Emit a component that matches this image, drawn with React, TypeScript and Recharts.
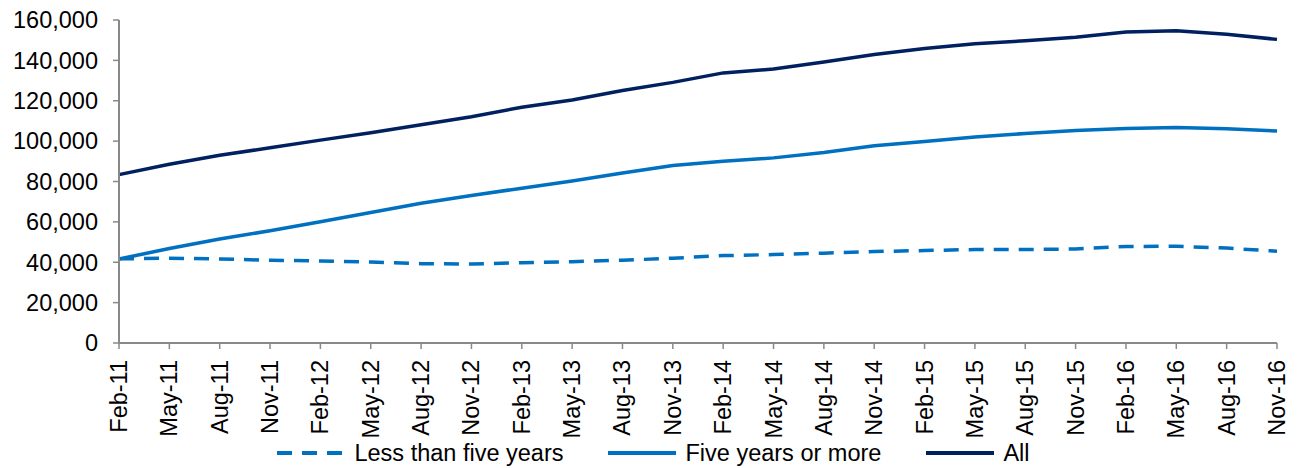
import { LineChart, Line, XAxis, YAxis, Legend } from 'recharts';

const months = [
  'Feb-11', 'May-11', 'Aug-11', 'Nov-11',
  'Feb-12', 'May-12', 'Aug-12', 'Nov-12',
  'Feb-13', 'May-13', 'Aug-13', 'Nov-13',
  'Feb-14', 'May-14', 'Aug-14', 'Nov-14',
  'Feb-15', 'May-15', 'Aug-15', 'Nov-15',
  'Feb-16', 'May-16', 'Aug-16', 'Nov-16',
];

const lessThanFive = [
  41700, 42000, 41600, 41000, 40600, 40100, 39300, 39100,
  39800, 40300, 41000, 42000, 43300, 43800, 44500, 45300,
  45800, 46300, 46300, 46600, 47800, 47900, 47000, 45500,
];

const fiveOrMore = [
  41600, 46800, 51500, 55600, 60100, 64600, 69200, 73100,
  76700, 80200, 84200, 87900, 90000, 91700, 94400, 97700,
  99800, 102000, 103800, 105300, 106300, 106800, 106100, 105000,
];

const all = [
  83400, 88500, 93000, 96700, 100500, 104100, 108100, 112100,
  116800, 120400, 125100, 129100, 133800, 135700, 139200, 142900,
  145900, 148200, 149700, 151500, 154000, 154700, 152900, 150400,
];

const yTicks = [0, 20000, 40000, 60000, 80000, 100000, 120000, 140000, 160000];

const data = months.map((m, i) => ({
  month: m,
  less: lessThanFive[i],
  more: fiveOrMore[i],
  all: all[i],
}));

const FONT = '"Liberation Sans", Arial, sans-serif';
const FS = 23.5;
const AXIS = '#898989';

const RotatedTick = (props: any) => {
  const { x, y, payload } = props;
  return (
    <text
      x={0}
      y={0}
      transform={`translate(${x},${y}) rotate(-90)`}
      textAnchor="end"
      dominantBaseline="central"
      fontSize={FS}
      fontFamily={FONT}
      fill="#000"
    >
      {payload.value}
    </text>
  );
};

const legendItems = [
  { label: 'Less than five years', color: '#0070C0', dash: '15 10' },
  { label: 'Five years or more', color: '#0070C0', dash: undefined },
  { label: 'All', color: '#002060', dash: undefined },
];

const CustomLegend = () => (
  <div style={{ display: 'flex', justifyContent: 'center', alignItems: 'center', fontFamily: FONT, fontSize: FS, color: '#000', lineHeight: '30px', paddingLeft: 22 }}>
    {legendItems.map((it, i) => (
      <div key={i} style={{ display: 'flex', alignItems: 'center', marginLeft: i === 0 ? 0 : 45 }}>
        <svg width={68} height={10}>
          <line x1={0} y1={5} x2={68} y2={5} stroke={it.color} strokeWidth={4} strokeDasharray={it.dash} />
        </svg>
        <span style={{ marginLeft: 9 }}>{it.label}</span>
      </div>
    ))}
  </div>
);

export default function App() {
  return (
    <LineChart width={1296} height={460} data={data} margin={{ top: 12, right: 27, bottom: 0, left: 0 }}>
      <XAxis
        dataKey="month"
        interval={0}
        height={95}
        tick={<RotatedTick />}
        tickSize={6}
        tickMargin={11}
        stroke={AXIS}
        tickLine={{ stroke: AXIS, strokeWidth: 1.5 }}
        axisLine={{ stroke: AXIS, strokeWidth: 2 }}
      />
      <YAxis
        width={111}
        domain={[0, 160000]}
        ticks={yTicks}
        interval={0}
        tickFormatter={(v: number) => v.toLocaleString('en-US')}
        tick={{ fontSize: FS, fontFamily: FONT, fill: '#000' }}
        tickSize={6}
        tickMargin={15}
        stroke={AXIS}
        tickLine={{ stroke: AXIS, strokeWidth: 1.5 }}
        axisLine={{ stroke: AXIS, strokeWidth: 2 }}
      />
      <Legend verticalAlign="bottom" height={30} content={<CustomLegend />} />
      <Line dataKey="less" name="Less than five years" stroke="#0070C0" strokeWidth={3.5} strokeDasharray="15 10" dot={false} type="linear" isAnimationActive={false} />
      <Line dataKey="more" name="Five years or more" stroke="#0070C0" strokeWidth={3.5} dot={false} type="linear" isAnimationActive={false} />
      <Line dataKey="all" name="All" stroke="#002060" strokeWidth={3.5} dot={false} type="linear" isAnimationActive={false} />
    </LineChart>
  );
}
